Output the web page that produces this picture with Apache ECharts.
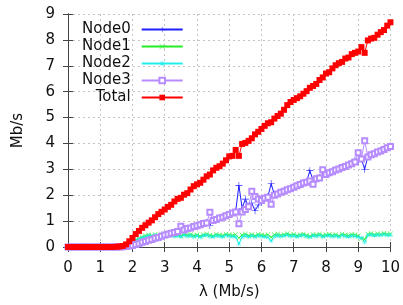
<!DOCTYPE html>
<html>
<head>
<meta charset="utf-8">
<script src="https://cdn.jsdelivr.net/npm/echarts@6/dist/echarts.min.js"></script>
<style>
  html, body { margin: 0; padding: 0; background: #fff; }
  #chart { width: 403px; height: 305px; }
</style>
</head>
<body>
<div id="chart"></div>
<script>
// offered load (Mb/s), one sample every 0.1
const lambdas = [
  0, 0.1, 0.2, 0.3, 0.4, 0.5, 0.6, 0.7, 0.8, 0.9,
  1, 1.1, 1.2, 1.3, 1.4, 1.5, 1.6, 1.7, 1.8, 1.9,
  2, 2.1, 2.2, 2.3, 2.4, 2.5, 2.6, 2.7, 2.8, 2.9,
  3, 3.1, 3.2, 3.3, 3.4, 3.5, 3.6, 3.7, 3.8, 3.9,
  4, 4.1, 4.2, 4.3, 4.4, 4.5, 4.6, 4.7, 4.8, 4.9,
  5, 5.1, 5.2, 5.3, 5.4, 5.5, 5.6, 5.7, 5.8, 5.9,
  6, 6.1, 6.2, 6.3, 6.4, 6.5, 6.6, 6.7, 6.8, 6.9,
  7, 7.1, 7.2, 7.3, 7.4, 7.5, 7.6, 7.7, 7.8, 7.9,
  8, 8.1, 8.2, 8.3, 8.4, 8.5, 8.6, 8.7, 8.8, 8.9,
  9, 9.1, 9.2, 9.3, 9.4, 9.5, 9.6, 9.7, 9.8, 9.9,
  10
];

const node0 = [
  0, 0, 0, 0, 0, 0, 0, 0, 0, 0,
  0, 0, 0, 0, 0, 0, 0, 0.01, 0.02, 0.04,
  0.06, 0.09, 0.14, 0.17, 0.22, 0.25, 0.3, 0.33, 0.38, 0.41,
  0.45, 0.5, 0.52, 0.57, 0.6, 0.64, 0.68, 0.7, 0.75, 0.78,
  0.83, 0.86, 0.9, 0.95, 0.83, 1.03, 1.08, 1.12, 1.17, 1.22,
  1.27, 1.3, 1.38, 2.38, 1.5, 1.85, 1.55, 1.7, 1.4, 1.62,
  1.75, 1.9, 1.95, 2.45, 2.02, 2.06, 2.1, 2.16, 2.2, 2.26,
  2.32, 2.36, 2.42, 2.46, 2.52, 2.95, 2.58, 2.62, 2.68, 2.72,
  2.82, 2.86, 2.92, 2.96, 3.02, 3.06, 3.12, 3.18, 3.24, 3.36,
  3.3, 3.4, 3.0, 3.5, 3.55, 3.6, 3.66, 3.72, 3.78, 3.84,
  3.9
];

const node1 = [
  0, 0, 0, 0, 0, 0, 0, 0, 0, 0,
  0, 0, 0, 0, 0, 0, 0, 0.02, 0.06, 0.13,
  0.21, 0.28, 0.34, 0.39, 0.43, 0.46, 0.44, 0.48, 0.45, 0.5,
  0.44, 0.47, 0.52, 0.45, 0.48, 0.43, 0.5, 0.46, 0.49, 0.44,
  0.47, 0.42, 0.48, 0.5, 0.45, 0.43, 0.49, 0.46, 0.44, 0.5,
  0.47, 0.45, 0.48, 0.35, 0.46, 0.5, 0.44, 0.47, 0.43, 0.49,
  0.46, 0.44, 0.48, 0.38, 0.47, 0.5, 0.45, 0.48, 0.52, 0.46,
  0.49, 0.44, 0.47, 0.5, 0.45, 0.42, 0.48, 0.46, 0.5, 0.44,
  0.47, 0.49, 0.45, 0.48, 0.43, 0.5, 0.46, 0.44, 0.48, 0.47,
  0.43, 0.32, 0.3, 0.5, 0.52, 0.48, 0.51, 0.49, 0.53, 0.5,
  0.51
];

const node2 = [
  0, 0, 0, 0, 0, 0, 0, 0, 0, 0,
  0, 0, 0, 0, 0, 0, 0, 0.01, 0.05, 0.11,
  0.18, 0.25, 0.31, 0.36, 0.4, 0.43, 0.41, 0.45, 0.42, 0.44,
  0.4, 0.43, 0.46, 0.41, 0.44, 0.4, 0.45, 0.42, 0.44, 0.39,
  0.43, 0.38, 0.44, 0.45, 0.41, 0.4, 0.44, 0.42, 0.4, 0.45,
  0.42, 0.41, 0.4, 0.12, 0.39, 0.44, 0.4, 0.43, 0.39, 0.44,
  0.42, 0.4, 0.38, 0.24, 0.41, 0.44, 0.41, 0.43, 0.46, 0.42,
  0.44, 0.4, 0.43, 0.45, 0.41, 0.38, 0.44, 0.42, 0.45, 0.4,
  0.43, 0.44, 0.41, 0.43, 0.39, 0.45, 0.42, 0.4, 0.43, 0.42,
  0.38, 0.36, 0.18, 0.45, 0.47, 0.44, 0.46, 0.45, 0.48, 0.45,
  0.46
];

const node3 = [
  0, 0, 0, 0, 0, 0, 0, 0, 0, 0,
  0, 0, 0, 0, 0, 0, 0, 0.01, 0.02, 0.04,
  0.06, 0.1, 0.13, 0.18, 0.21, 0.26, 0.29, 0.34, 0.37, 0.42,
  0.46, 0.49, 0.53, 0.56, 0.6, 0.8, 0.66, 0.71, 0.73, 0.79,
  0.82, 0.86, 0.91, 0.93, 1.34, 1.02, 1.06, 1.12, 1.15, 1.21,
  1.26, 1.31, 1.35, 0.9, 1.35, 1.45, 1.55, 2.15, 1.95, 1.85,
  1.8, 1.88, 1.92, 1.65, 2.0, 2.05, 2.11, 2.15, 2.21, 2.25,
  2.31, 2.37, 2.41, 2.47, 2.5, 2.55, 2.42, 2.64, 2.67, 2.98,
  2.8, 2.87, 2.91, 2.97, 3.01, 3.07, 3.11, 3.17, 3.22, 3.28,
  3.64, 3.4, 4.1, 3.48, 3.56, 3.6, 3.67, 3.71, 3.77, 3.83,
  3.88
];

const total = [
  0, 0, 0, 0, 0, 0, 0, 0, 0, 0,
  0, 0, 0, 0, 0, 0.01, 0.02, 0.04, 0.1, 0.22,
  0.35, 0.5, 0.62, 0.74, 0.84, 0.94, 1.03, 1.15, 1.27, 1.36,
  1.45, 1.55, 1.63, 1.76, 1.86, 1.9, 2.02, 2.08, 2.22, 2.35,
  2.42, 2.48, 2.6, 2.73, 2.8, 2.96, 3.06, 3.12, 3.22, 3.35,
  3.5, 3.52, 3.75, 3.52, 3.98, 4.02, 4.1, 4.2, 4.35, 4.45,
  4.56, 4.68, 4.78, 4.82, 4.96, 5.06, 5.15, 5.3, 5.48, 5.6,
  5.68, 5.75, 5.82, 5.92, 6.02, 6.15, 6.22, 6.3, 6.45, 6.55,
  6.7, 6.75, 6.9, 7.02, 7.1, 7.15, 7.28, 7.32, 7.45, 7.5,
  7.55, 7.72, 7.5, 7.98, 8.05, 8.08, 8.2, 8.3, 8.38, 8.55,
  8.68
];

const xTicks = [0, 10, 1];   // min, max, step
const yTicks = [0, 9, 1];

const FONT = "DejaVu Sans";

const plusSym = "path://M0,4.6H10V5.4H0Z M4.6,0H5.4V10H4.6Z";
const crossSym = "path://M0,0.6L0.6,0L10,9.4L9.4,10Z M9.4,0L10,0.6L0.6,10L0,9.4Z";
const starSym = "path://M0,4.6H10V5.4H0Z M4.6,0H5.4V10H4.6Z M1,1.6L1.6,1L9,8.4L8.4,9Z M8.4,1L9,1.6L1.6,9L1,8.4Z";

function pairs(ys) {
  return lambdas.map((x, i) => [x, ys[i]]);
}

function mkSeries(name, ys, color, symbol, size, extra) {
  return Object.assign({
    name: name,
    type: "line",
    data: pairs(ys),
    symbol: symbol,
    symbolSize: size,
    showAllSymbol: true,
    lineStyle: { color: color, width: 1 },
    itemStyle: { color: color },
    emphasis: { disabled: true },
    animation: false,
  }, extra || {});
}

const chart = echarts.init(document.getElementById("chart"), null, { renderer: "canvas" });

const axisLineStyle = { color: "#444", width: 1 };
const splitStyle = { color: "#c4c4c4", type: [2, 3], width: 1 };

const option = {
  backgroundColor: "#fff",
  textStyle: { fontFamily: FONT },
  grid: { left: 68, right: 9, top: 14, bottom: 53, containLabel: false },
  legend: {
    orient: "vertical",
    align: "right",
    left: 77,
    top: 16,
    itemWidth: 41,
    itemHeight: 7,
    itemGap: 0,
    selectedMode: false,
    textStyle: { fontFamily: FONT, fontSize: 15, color: "#111", padding: [0, 6, 0, 0], lineHeight: 17 },
    data: ["Node0", "Node1", "Node2", "Node3", "Total"],
  },
  xAxis: [
    {
      type: "value",
      min: xTicks[0], max: xTicks[1], interval: xTicks[2],
      name: "\u03bb (Mb/s)",
      nameLocation: "middle",
      nameGap: 38,
      nameTextStyle: { fontFamily: FONT, fontSize: 15, color: "#111" },
      axisLine: { show: true, lineStyle: axisLineStyle },
      axisTick: { show: true, inside: true, length: 5, lineStyle: axisLineStyle },
      axisLabel: { fontFamily: FONT, fontSize: 15, color: "#111", margin: 14 },
      splitLine: { show: true, lineStyle: splitStyle },
    },
    {
      type: "value", position: "top",
      min: xTicks[0], max: xTicks[1], interval: xTicks[2],
      axisLine: { show: true, lineStyle: axisLineStyle },
      axisTick: { show: true, inside: true, length: 5, lineStyle: axisLineStyle },
      axisLabel: { show: false },
      splitLine: { show: false },
    },
  ],
  yAxis: [
    {
      type: "value",
      min: yTicks[0], max: yTicks[1], interval: yTicks[2],
      name: "Mb/s",
      nameLocation: "middle",
      nameGap: 42,
      nameTextStyle: { fontFamily: FONT, fontSize: 15, color: "#111" },
      axisLine: { show: true, lineStyle: axisLineStyle },
      axisTick: { show: true, inside: true, length: 5, lineStyle: axisLineStyle },
      axisLabel: { fontFamily: FONT, fontSize: 15, color: "#111", margin: 13 },
      splitLine: { show: true, lineStyle: splitStyle },
    },
    {
      type: "value", position: "right",
      min: yTicks[0], max: yTicks[1], interval: yTicks[2],
      axisLine: { show: true, lineStyle: axisLineStyle },
      axisTick: { show: true, inside: true, length: 5, lineStyle: axisLineStyle },
      axisLabel: { show: false },
      splitLine: { show: false },
    },
  ],
  series: [
    mkSeries("Node0", node0, "#1f1fff", plusSym, 7),
    mkSeries("Node1", node1, "#22ee22", crossSym, 5),
    mkSeries("Node2", node2, "#22eeee", starSym, 5),
    mkSeries("Node3", node3, "#b78cff", "emptyRect", 5, { itemStyle: { color: "#b78cff", borderWidth: 1 } }),
    mkSeries("Total", total, "#ff0000", "rect", 6),
  ],
};

chart.setOption(option);
</script>
</body>
</html>
